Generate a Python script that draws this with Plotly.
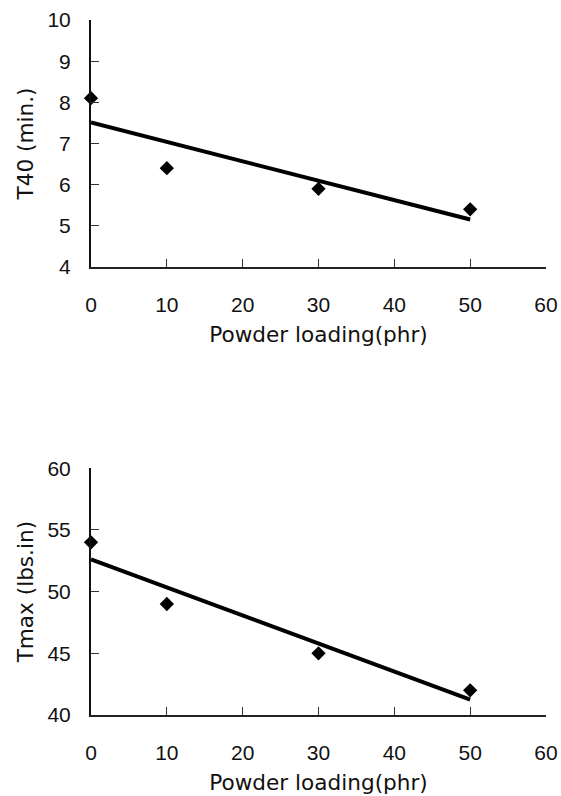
import numpy as np
import plotly.graph_objects as go

# Data
loading = [0, 10, 30, 50]
t40 = [8.1, 6.4, 5.9, 5.4]
tmax = [54, 49, 45, 42]

x_ticks = [0, 10, 20, 30, 40, 50, 60]
t40_ticks = [4, 5, 6, 7, 8, 9, 10]
tmax_ticks = [40, 45, 50, 55, 60]

x_title = "Powder loading(phr)"
t40_title = "T40 (min.)"
tmax_title = "Tmax (lbs.in)"

W, H = 561, 796
FONT = "Liberation Sans, Arial, sans-serif"
TFONT = "DejaVu Sans, sans-serif"
INK = "#111111"


def fit_line(x, y):
    k, b = np.polyfit(x, y, 1)
    xs = [min(x), max(x)]
    return xs, [k * v + b for v in xs]


fig = go.Figure()

for ys, ax in [(t40, ""), (tmax, "2")]:
    xs, ls = fit_line(loading, ys)
    fig.add_trace(go.Scatter(x=xs, y=ls, mode="lines",
                             line=dict(color="black", width=4),
                             xaxis="x" + ax, yaxis="y" + ax,
                             showlegend=False, cliponaxis=False))
    fig.add_trace(go.Scatter(x=loading, y=ys, mode="markers",
                             marker=dict(symbol="diamond", size=11, color="black"),
                             xaxis="x" + ax, yaxis="y" + ax,
                             showlegend=False, cliponaxis=False))

xdom = [91 / W, 546 / W]
top_dom = [1 - 267 / H, 1 - 20 / H]
bot_dom = [1 - 715 / H, 1 - 468.3 / H]

common_x = dict(
    domain=xdom, range=[0, 60], tickvals=x_ticks, ticks="inside", ticklen=8,
    tickwidth=1, tickcolor="#333", showline=True, linecolor="#222", linewidth=1.5,
    showgrid=False, zeroline=False, tickfont=dict(family=FONT, size=21, color=INK),
    ticklabelstandoff=18, automargin=False,
    title=dict(text=x_title, font=dict(family=TFONT, size=21.6, color=INK), standoff=12),
)
common_y = dict(
    ticks="inside", ticklen=8, tickwidth=1, tickcolor="#333", showline=True,
    linecolor="#111", linewidth=2, showgrid=False, zeroline=False,
    tickfont=dict(family=FONT, size=21, color=INK), ticklabelstandoff=14,
    automargin=False,
)

fig.update_layout(
    width=W, height=H, margin=dict(l=0, r=0, t=0, b=0, autoexpand=False),
    paper_bgcolor="white", plot_bgcolor="white",
    xaxis=dict(anchor="y", **common_x),
    xaxis2=dict(anchor="y2", **common_x),
    yaxis=dict(domain=top_dom, range=[4, 10], tickvals=t40_ticks, anchor="x",
               title=dict(text=t40_title, font=dict(family=TFONT, size=21.6, color=INK), standoff=8),
               **common_y),
    yaxis2=dict(domain=bot_dom, range=[40, 60], tickvals=tmax_ticks, anchor="x2",
                title=dict(text=tmax_title, font=dict(family=TFONT, size=21.6, color=INK), standoff=8),
                **common_y),
)

fig.write_html("out.html")
